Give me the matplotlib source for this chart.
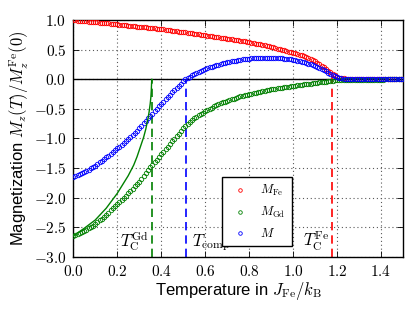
import numpy as np
import matplotlib
matplotlib.use("Agg")
import matplotlib.pyplot as plt
from matplotlib.ticker import FuncFormatter, MultipleLocator

plt.rcParams['font.family'] = ['Liberation Sans', 'DejaVu Sans']
plt.rcParams['mathtext.fontset'] = 'cm'

# Temperature grid (J_Fe / k_B), step 0.01 from 0 to 1.5
T = np.round(np.arange(151) * 0.01, 2)

M_Fe = [
    1.000, 0.997, 0.994, 0.991, 0.988, 0.985, 0.982, 0.979, 0.976, 0.973,
    0.970, 0.966, 0.962, 0.958, 0.954, 0.950, 0.946, 0.942, 0.938, 0.934,
    0.930, 0.926, 0.922, 0.918, 0.914, 0.910, 0.906, 0.902, 0.898, 0.894,
    0.890, 0.886, 0.882, 0.878, 0.874, 0.870, 0.866, 0.862, 0.858, 0.854,
    0.850, 0.845, 0.840, 0.835, 0.830, 0.825, 0.820, 0.815, 0.810, 0.805,
    0.800, 0.795, 0.789, 0.784, 0.778, 0.773, 0.767, 0.762, 0.756, 0.751,
    0.745, 0.740, 0.734, 0.729, 0.723, 0.718, 0.712, 0.707, 0.701, 0.696,
    0.690, 0.684, 0.678, 0.672, 0.666, 0.660, 0.654, 0.648, 0.642, 0.636,
    0.630, 0.623, 0.615, 0.607, 0.599, 0.591, 0.583, 0.575, 0.566, 0.558,
    0.550, 0.541, 0.532, 0.522, 0.512, 0.502, 0.492, 0.482, 0.471, 0.461,
    0.450, 0.440, 0.429, 0.418, 0.405, 0.392, 0.378, 0.363, 0.346, 0.327,
    0.305, 0.282, 0.257, 0.231, 0.205, 0.178, 0.150, 0.122, 0.095, 0.068,
    0.045, 0.030, 0.021, 0.016, 0.013, 0.011, 0.010, 0.009, 0.008, 0.008,
    0.007, 0.007, 0.006, 0.006, 0.006, 0.005, 0.005, 0.005, 0.005, 0.005,
    0.004, 0.004, 0.004, 0.004, 0.004, 0.004, 0.004, 0.004, 0.004, 0.004,
    0.004,
]

M_Gd = [
    -2.650, -2.635, -2.620, -2.604, -2.587, -2.570, -2.547, -2.523, -2.499, -2.475,
    -2.450, -2.419, -2.387, -2.355, -2.322, -2.290, -2.254, -2.218, -2.182, -2.146,
    -2.110, -2.074, -2.038, -2.002, -1.966, -1.930, -1.890, -1.850, -1.810, -1.770,
    -1.730, -1.683, -1.635, -1.587, -1.539, -1.490, -1.446, -1.402, -1.358, -1.314,
    -1.270, -1.226, -1.182, -1.138, -1.094, -1.050, -1.006, -0.962, -0.918, -0.874,
    -0.830, -0.794, -0.760, -0.726, -0.693, -0.660, -0.634, -0.609, -0.585, -0.562,
    -0.540, -0.519, -0.498, -0.478, -0.459, -0.440, -0.423, -0.407, -0.391, -0.375,
    -0.360, -0.348, -0.336, -0.324, -0.312, -0.300, -0.290, -0.280, -0.270, -0.260,
    -0.250, -0.242, -0.234, -0.226, -0.218, -0.210, -0.202, -0.194, -0.186, -0.178,
    -0.170, -0.164, -0.158, -0.152, -0.146, -0.140, -0.134, -0.128, -0.122, -0.116,
    -0.110, -0.105, -0.100, -0.095, -0.090, -0.085, -0.080, -0.075, -0.070, -0.065,
    -0.060, -0.055, -0.051, -0.046, -0.042, -0.037, -0.033, -0.028, -0.024, -0.019,
    -0.015, -0.013, -0.011, -0.009, -0.008, -0.006, -0.006, -0.005, -0.005, -0.004,
    -0.004, -0.004, -0.004, -0.003, -0.003, -0.003, -0.003, -0.003, -0.003, -0.003,
    -0.003, -0.003, -0.002, -0.002, -0.002, -0.002, -0.002, -0.002, -0.002, -0.002,
    -0.002,
]

M_tot = [
    -1.650, -1.635, -1.619, -1.603, -1.587, -1.570, -1.549, -1.527, -1.505, -1.483,
    -1.460, -1.433, -1.405, -1.377, -1.349, -1.320, -1.290, -1.260, -1.230, -1.200,
    -1.170, -1.138, -1.106, -1.074, -1.042, -1.010, -0.974, -0.938, -0.902, -0.866,
    -0.830, -0.788, -0.746, -0.704, -0.662, -0.620, -0.578, -0.537, -0.496, -0.455,
    -0.415, -0.376, -0.337, -0.298, -0.259, -0.220, -0.183, -0.146, -0.110, -0.074,
    -0.030, -0.002, 0.024, 0.048, 0.070, 0.090, 0.110, 0.128, 0.145, 0.161,
    0.176, 0.190, 0.203, 0.216, 0.228, 0.240, 0.251, 0.261, 0.271, 0.280,
    0.289, 0.297, 0.305, 0.312, 0.319, 0.325, 0.331, 0.337, 0.342, 0.347,
    0.351, 0.355, 0.358, 0.361, 0.364, 0.366, 0.368, 0.369, 0.370, 0.370,
    0.370, 0.369, 0.368, 0.367, 0.365, 0.357, 0.353, 0.349, 0.344, 0.338,
    0.332, 0.325, 0.318, 0.310, 0.301, 0.291, 0.280, 0.268, 0.255, 0.241,
    0.226, 0.210, 0.193, 0.175, 0.156, 0.136, 0.115, 0.093, 0.072, 0.053,
    0.037, 0.025, 0.017, 0.013, 0.011, 0.010, 0.009, 0.008, 0.008, 0.007,
    0.007, 0.007, 0.006, 0.006, 0.006, 0.006, 0.005, 0.005, 0.005, 0.005,
    0.005, 0.005, 0.005, 0.004, 0.004, 0.004, 0.004, 0.004, 0.004, 0.004,
    0.004,
]

# Solid green curve (Gd sublattice alone)
T_gd_line = [0.0, 0.05, 0.1, 0.15, 0.2, 0.225, 0.25, 0.275, 0.29, 0.30, 0.31,
             0.32, 0.33, 0.34, 0.345, 0.35, 0.353, 0.355, 0.356, 0.357]
M_gd_line = [-2.65, -2.52, -2.38, -2.18, -1.93, -1.78, -1.63, -1.45, -1.31, -1.20,
             -1.09, -0.98, -0.84, -0.66, -0.55, -0.41, -0.30, -0.18, -0.08, 0.0]

T_C_Gd = 0.356
T_comp = 0.511
T_C_Fe = 1.177

fig = plt.figure(figsize=(4.15, 3.12), dpi=100)
ax = fig.add_axes([0.1766, 0.1775, 0.7944, 0.7575])

ms = 3.2
mew = 0.6
ax.plot(T, M_Fe, 'o', mfc='none', mec='r', ms=ms, mew=mew, label=r'$M_\mathrm{Fe}$', zorder=3)
ax.plot(T, M_Gd, 'o', mfc='none', mec='g', ms=ms, mew=mew, label=r'$M_\mathrm{Gd}$', zorder=3)
ax.plot(T, M_tot, 'o', mfc='none', mec='b', ms=ms, mew=mew, label=r'$M$', zorder=3)
ax.plot(T_gd_line, M_gd_line, '-', color='g', lw=1.0, zorder=3)

ax.axhline(0, color='k', lw=1.0, zorder=2)
ax.plot([T_C_Gd, T_C_Gd], [-3, 0], color='g', lw=1.2, dashes=(5, 3), zorder=2)
ax.plot([T_comp, T_comp], [-3, 0], color='b', lw=1.2, dashes=(5, 3), zorder=2)
ax.plot([T_C_Fe, T_C_Fe], [-3, 0.06], color='r', lw=1.2, dashes=(5, 3), zorder=2)

ax.text(0.213, -2.83, r'$T_\mathrm{C}^\mathrm{Gd}$', fontsize=12, ha='left', va='baseline')
ax.text(0.54, -2.83, r'$T_\mathrm{comp}$', fontsize=12, ha='left', va='baseline')
ax.text(1.046, -2.83, r'$T_\mathrm{C}^\mathrm{Fe}$', fontsize=12, ha='left', va='baseline')

ax.set_xlim(0, 1.5)
ax.set_ylim(-3, 1)
ax.xaxis.set_major_locator(MultipleLocator(0.2))
ax.yaxis.set_major_locator(MultipleLocator(0.5))
fmt = FuncFormatter(lambda v, p: r'$%.1f$' % v)
ax.xaxis.set_major_formatter(fmt)
ax.yaxis.set_major_formatter(fmt)
ax.tick_params(direction='in', top=True, right=True, length=4, width=0.6,
               labelsize=11, pad=5)
ax.grid(True, color='0.35', linestyle=(0, (1, 2.5)), lw=0.8)
ax.set_axisbelow(True)
for s in ax.spines.values():
    s.set_linewidth(1.0)

ax.set_xlabel(r'Temperature in $J_\mathrm{Fe}/k_\mathrm{B}$', fontsize=12, labelpad=1)
ax.set_ylabel(r'Magnetization $M_z(T)/M_z^\mathrm{Fe}(0)$', fontsize=12, labelpad=2)

leg = ax.legend(loc='upper left', bbox_to_anchor=(0.45, 0.338), borderaxespad=0,
                numpoints=1, fontsize=9, fancybox=False, framealpha=1,
                edgecolor='k', handlelength=2.0, handletextpad=0.6,
                labelspacing=0.55, borderpad=0.5, markerscale=0.8)
leg.get_frame().set_linewidth(1.0)

fig.savefig('out.png', dpi=100, facecolor='white')
